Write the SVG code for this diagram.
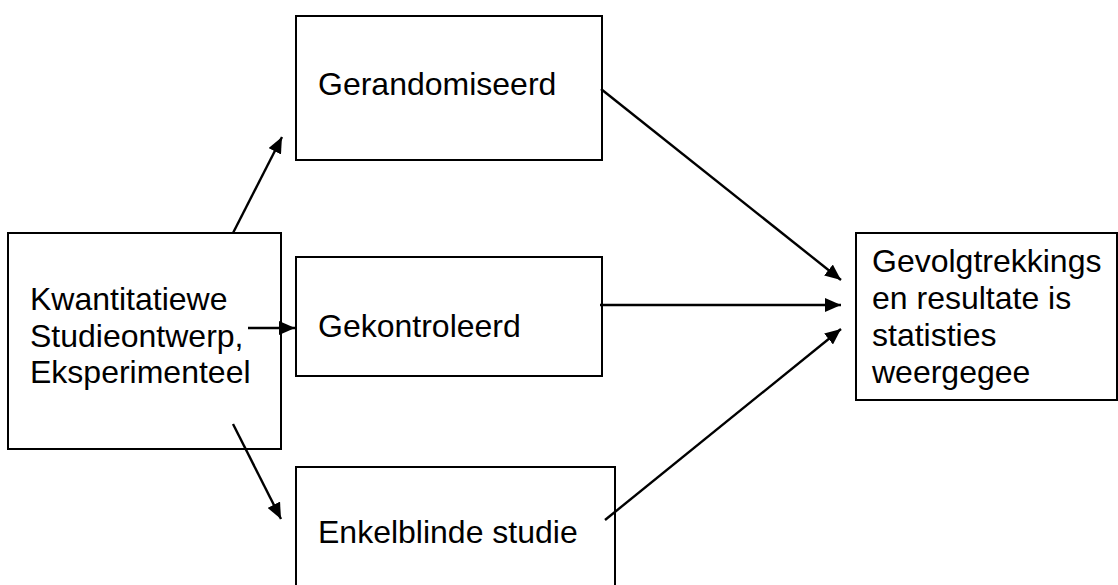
<svg xmlns="http://www.w3.org/2000/svg" width="1118" height="585" viewBox="0 0 1118 585">
<style>
.box{fill:#fff;stroke:#000;stroke-width:2}
.lbl{font-family:"Liberation Sans",Arial,sans-serif;font-size:32px;fill:#000}
.conn{stroke:#000;stroke-width:2.4;fill:none;marker-end:url(#ah)}
</style>
<defs>
<marker id="ah" markerUnits="userSpaceOnUse" markerWidth="17" markerHeight="14" refX="16" refY="7" orient="auto">
<path d="M0,0 L16,7 L0,14 z" fill="#000"/>
</marker>
</defs>
<rect width="1118" height="585" fill="#fff"/>
<g id="node-start">
<rect class="box" x="8" y="233" width="273" height="216"/>
<text class="lbl" x="30" y="310">Kwantitatiewe</text>
<text class="lbl" x="30" y="347">Studieontwerp,</text>
<text class="lbl" x="30" y="383">Eksperimenteel</text>
</g>
<g id="node-gerandomiseerd">
<rect class="box" x="296" y="16" width="306" height="144"/>
<text class="lbl" x="318" y="95">Gerandomiseerd</text>
</g>
<g id="node-gekontroleerd">
<rect class="box" x="296" y="257" width="306" height="119"/>
<text class="lbl" x="318" y="337">Gekontroleerd</text>
</g>
<g id="node-enkelblinde">
<rect class="box" x="296" y="467" width="319" height="130"/>
<text class="lbl" x="318" y="543">Enkelblinde studie</text>
</g>
<g id="node-gevolgtrekkings">
<rect class="box" x="856" y="233" width="261" height="167"/>
<text class="lbl" x="872" y="272">Gevolgtrekkings</text>
<text class="lbl" x="872" y="309">en resultate is</text>
<text class="lbl" x="872" y="346">statisties</text>
<text class="lbl" x="872" y="383">weergegee</text>
</g>
<g id="connectors">
<line class="conn" x1="233" y1="233" x2="282" y2="137"/>
<line class="conn" x1="248" y1="328" x2="295" y2="328"/>
<line class="conn" x1="233" y1="424" x2="281" y2="519"/>
<line class="conn" x1="601" y1="89" x2="841" y2="280"/>
<line class="conn" x1="600" y1="305" x2="841" y2="305"/>
<line class="conn" x1="605" y1="520" x2="841" y2="329"/>
</g>
</svg>
